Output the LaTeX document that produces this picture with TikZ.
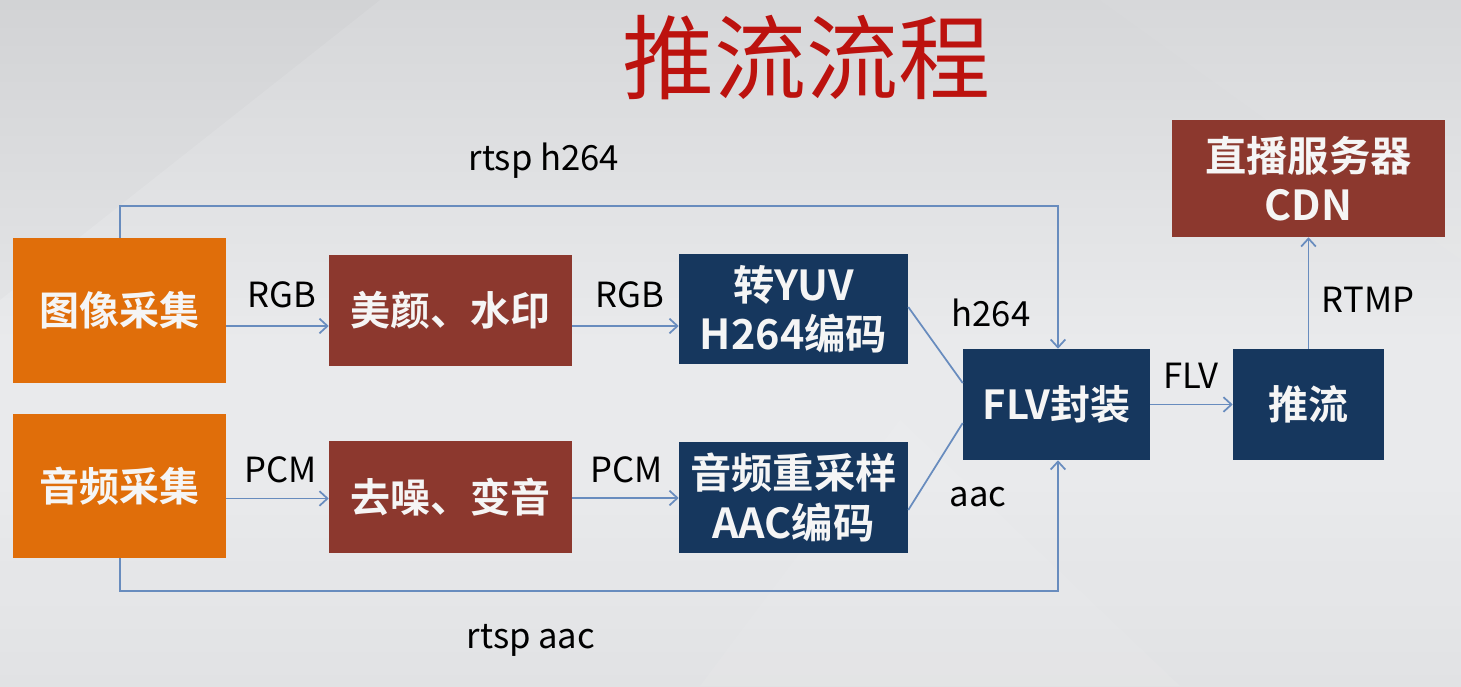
\documentclass[tikz,border=0pt]{standalone}
\usepackage{fontspec}
\setmainfont{Noto Sans CJK SC}
\newfontfamily\cjkbold{Noto Sans CJK SC Bold}
\usetikzlibrary{arrows.meta,calc}

\newdimen\pxu \pxu=0.75pt

\definecolor{bgtop}{RGB}{214,215,217}
\definecolor{bgmid}{RGB}{233,234,236}
\definecolor{bgbot}{RGB}{224,225,227}
\definecolor{orangebox}{RGB}{224,110,10}
\definecolor{redbox}{RGB}{140,56,46}
\definecolor{navybox}{RGB}{22,55,94}
\definecolor{linkblue}{RGB}{104,140,190}
\definecolor{titlered}{RGB}{188,18,14}
\definecolor{boxtext}{RGB}{245,245,245}

\tikzset{
  box/.style={rectangle, inner sep=0pt, align=center, text=boxtext,
    font=\cjkbold\fontsize{30}{34}\selectfont},
  twoline/.style={font=\cjkbold\fontsize{31}{37}\selectfont},
  capture/.style={box, fill=orangebox},
  effect/.style={box, fill=redbox},
  codec/.style={box, fill=navybox},
  link/.style={draw=linkblue, line width=1.3pt,
    -{Straight Barb[length=6pt,width=11pt,line width=1.3pt]}},
  plainlink/.style={draw=linkblue, line width=1.3pt},
  lbl/.style={font=\fontsize{26}{30}\selectfont, text=black, inner sep=0pt}
}

\begin{document}
\begin{tikzpicture}[x=0.75pt,y=-0.75pt]
  % background
  \shade[top color=bgtop, bottom color=bgmid, middle color=bgmid]
    (0,0) rectangle (1461,686);
  \shade[top color=bgmid, bottom color=bgbot, opacity=0.8]
    (0,480) rectangle (1461,686);
  \fill[white, opacity=0.07] (700,686) -- (900,420) -- (1180,686) -- cycle;
  \fill[white, opacity=0.04] (1100,0) -- (1461,0) -- (1461,260) -- cycle;
  \fill[black, opacity=0.015] (0,0) -- (380,0) -- (0,300) -- cycle;
  \useasboundingbox (0,0) rectangle (1461,686);

  % title
  \node[text=titlered, font=\fontsize{69}{76}\selectfont, inner sep=0pt]
    (title) at (806,58) {推流流程};

  % boxes
  \node[capture, minimum width=213\pxu, minimum height=145\pxu]
    (img) at (119.5,310.5) {图像采集};
  \node[capture, minimum width=213\pxu, minimum height=144\pxu]
    (aud) at (119.5,486) {音频采集};
  \node[effect, minimum width=243\pxu, minimum height=111\pxu]
    (beauty) at (450.5,310.5) {美颜、水印};
  \node[effect, minimum width=243\pxu, minimum height=112\pxu]
    (denoise) at (450.5,497) {去噪、变音};
  \node[codec, twoline, minimum width=229\pxu, minimum height=110\pxu]
    (yuv) at (793.5,309) {转YUV\\H264编码};
  \node[codec, twoline, minimum width=229\pxu, minimum height=111\pxu]
    (aac) at (793.5,497.5) {音频重采样\\AAC编码};
  \node[codec, minimum width=187\pxu, minimum height=111\pxu]
    (flv) at (1056.5,404.5) {FLV封装};
  \node[codec, minimum width=151\pxu, minimum height=111\pxu]
    (push) at (1308.5,404.5) {推流};
  \node[effect, twoline, minimum width=273\pxu, minimum height=117\pxu]
    (cdn) at (1308.5,178.5) {直播服务器\\CDN};

  % anchor points of the connectors
  \coordinate (rgbA) at ($(img.east)+(0,15.5)$);
  \coordinate (rgbB) at ($(beauty.east)+(0,15.5)$);
  \coordinate (pcmA) at ($(aud.east)+(0,12.5)$);
  \coordinate (pcmB) at ($(denoise.east)+(0,1)$);
  \coordinate (yuvOut) at ($(yuv.east)+(0,-2)$);
  \coordinate (aacOut) at ($(aac.east)+(0,12.5)$);
  \coordinate (flvInA) at ($(flv.west)+(0,-21.5)$);
  \coordinate (flvInB) at ($(flv.west)+(0,18.5)$);
  \coordinate (imgTop) at ($(img.north)+(0.5,0)$);
  \coordinate (audBot) at ($(aud.south)+(0.5,0)$);
  \coordinate (flvTop) at ($(flv.north)+(1.5,0)$);
  \coordinate (flvBot) at ($(flv.south)+(1.5,0)$);

  % horizontal chains
  \draw[link] (rgbA) -- (rgbA -| beauty.west);
  \draw[link] (rgbB) -- (rgbB -| yuv.west);
  \draw[link] (pcmA) -- (pcmA -| denoise.west);
  \draw[link] (pcmB) -- (pcmB -| aac.west);

  % encoded streams into the muxer
  \draw[plainlink] (yuvOut) -- (flvInA);
  \draw[plainlink] (aacOut) -- (flvInB);

  % rtsp bypass routes
  \draw[link] (imgTop) -- (imgTop |- 0,206) -- (flvTop |- 0,206) -- (flvTop);
  \draw[link] (audBot) -- (audBot |- 0,591) -- (flvBot |- 0,591) -- (flvBot);

  % muxer to pusher to server
  \draw[link] (flv.east) -- (push.west);
  \draw[link] (push.north) -- (cdn.south);

  % labels
  \node[lbl] (lRGB1) at (282,295) {RGB};
  \node[lbl] (lRGB2) at (630,295) {RGB};
  \node[lbl] (lPCM1) at (281,470) {PCM};
  \node[lbl] (lPCM2) at (627,470) {PCM};
  \node[lbl] (lh264) at (991,313) {h264};
  \node[lbl] (laac)  at (978,497) {aac};
  \node[lbl] (lFLV)  at (1191,376) {FLV};
  \node[lbl] (lRTMP) at (1368,300) {RTMP};
  \node[lbl] (lrtsp1) at (544,161) {rtsp h264};
  \node[lbl] (lrtsp2) at (531,640) {rtsp aac};
\end{tikzpicture}
\end{document}
